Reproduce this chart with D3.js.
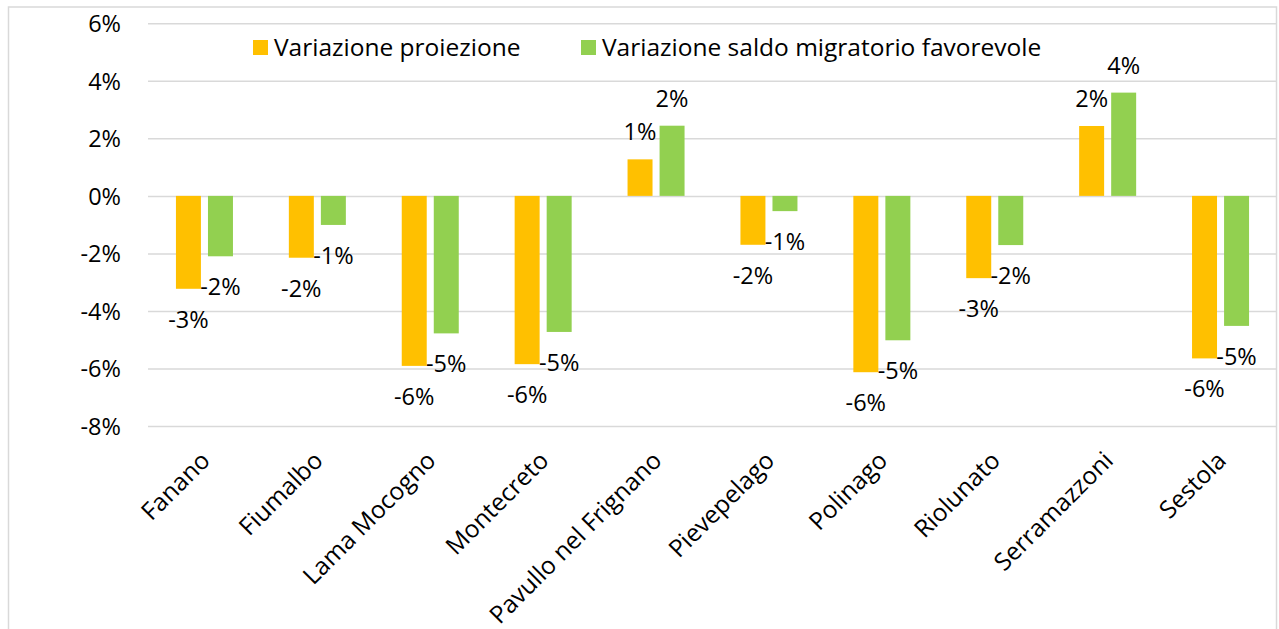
<!DOCTYPE html>
<html>
<head>
<meta charset="utf-8">
<script src="https://cdn.jsdelivr.net/npm/d3@7"></script>
<style>
  html, body { margin: 0; padding: 0; background: #fff; }
  svg text { font-family: 'Open Sans', sans-serif; fill: #000; }
</style>
</head>
<body>
<div id="chart"></div>
<script>
const comuni = [
  'Fanano', 'Fiumalbo', 'Lama Mocogno', 'Montecreto', 'Pavullo nel Frignano',
  'Pievepelago', 'Polinago', 'Riolunato', 'Serramazzoni', 'Sestola',
];
const serie = ['Variazione proiezione', 'Variazione saldo migratorio favorevole'];
// values in percent
const proiezione = [-3.23, -2.15, -5.91, -5.85, 1.27, -1.70, -6.13, -2.86, 2.43, -5.65];
const saldoFavorevole = [-2.10, -1.01, -4.78, -4.73, 2.44, -0.53, -5.02, -1.71, 3.59, -4.52];
const yTicks = [-8, -6, -4, -2, 0, 2, 4, 6];
const colors = ['#FFC000', '#92D050'];

const canvasWidth = 1279;
const canvasHeight = 629;
const margins = { top: 23.3, right: 2, bottom: 203, left: 148 };
const width = canvasWidth - margins.left - margins.right;
const height = canvasHeight - margins.top - margins.bottom;
const pct = v => `${Math.round(v)}%`;

const data = comuni.map((c, i) => ({
  name: c,
  values: [proiezione[i], saldoFavorevole[i]],
}));

const svg = d3.select('#chart')
  .append('svg')
    .attr('width', canvasWidth)
    .attr('height', canvasHeight);

// chart border
svg.append('rect')
  .attr('x', 8.5)
  .attr('y', 7)
  .attr('width', 1268)
  .attr('height', 660)
  .attr('fill', '#fff')
  .attr('stroke', '#D9D9D9')
  .attr('stroke-width', 1.5);

const chart = svg.append('g')
  .attr('transform', `translate(${margins.left}, ${margins.top})`);

// scales
const scaleX = d3.scaleBand()
  .domain(comuni)
  .range([0, width]);
const scaleSerie = d3.scaleBand()
  .domain([0, 1])
  .range([0, scaleX.bandwidth() * 0.505])
  .paddingInner(0.22);
const scaleY = d3.scaleLinear()
  .domain([-8, 6])
  .range([height, 0]);

// gridlines + y labels
const axisY = d3.axisLeft(scaleY)
  .tickValues(yTicks)
  .tickSize(-width)
  .tickPadding(27)
  .tickFormat(d => `${d}%`);

const y = chart.append('g')
  .attr('class', 'axis axis--y')
  .call(axisY);
y.select('.domain').remove();
y.selectAll('.tick line')
  .attr('stroke', '#D9D9D9')
  .attr('stroke-width', 1.5);
y.selectAll('.tick text')
  .attr('font-size', 23.5)
  .attr('dy', '0.36em');

// bars
const groupOffset = (scaleX.bandwidth() - scaleSerie.range()[1]) / 2;
const groups = chart.append('g')
  .attr('class', 'bars')
  .selectAll('g')
  .data(data)
  .enter()
  .append('g')
    .attr('transform', d => `translate(${scaleX(d.name) + groupOffset}, 0)`);

groups.selectAll('rect')
  .data(d => d.values.map((v, k) => ({ v, k })))
  .enter()
  .append('rect')
    .attr('x', d => scaleSerie(d.k))
    .attr('y', d => scaleY(Math.max(0, d.v)))
    .attr('width', scaleSerie.bandwidth())
    .attr('height', d => Math.abs(scaleY(d.v) - scaleY(0)))
    .attr('fill', d => colors[d.k]);

// data labels
groups.selectAll('text')
  .data(d => d.values.map((v, k) => ({ v, k })))
  .enter()
  .append('text')
    .attr('x', d => scaleSerie(d.k) + scaleSerie.bandwidth() / 2)
    .attr('y', d => (d.v < 0 ? scaleY(d.v) + 39 : scaleY(d.v) - 19))
    .attr('text-anchor', 'middle')
    .attr('font-size', 23.5)
    .text(d => pct(d.v));

// category axis
const axisX = d3.axisBottom(scaleX)
  .tickSize(0);
const x = chart.append('g')
  .attr('class', 'axis axis--x')
  .attr('transform', `translate(0, ${height})`)
  .call(axisX);
x.select('.domain').remove();
x.selectAll('.tick text')
  .attr('font-size', 24.5)
  .attr('text-anchor', 'end')
  .attr('y', 0)
  .attr('dy', 0)
  .attr('transform', 'translate(7, 36) rotate(-45)');

// legend
const legend = svg.append('g')
  .attr('class', 'legend')
  .attr('transform', 'translate(253, 40)');
const legendX = [0, 328];
serie.forEach((s, k) => {
  const item = legend.append('g')
    .attr('transform', `translate(${legendX[k]}, 0)`);
  item.append('rect')
    .attr('width', 15)
    .attr('height', 15)
    .attr('fill', colors[k]);
  item.append('text')
    .attr('x', 21)
    .attr('y', 7.5)
    .attr('dy', '0.36em')
    .attr('font-size', 24.5)
    .text(s);
});
</script>
</body>
</html>
